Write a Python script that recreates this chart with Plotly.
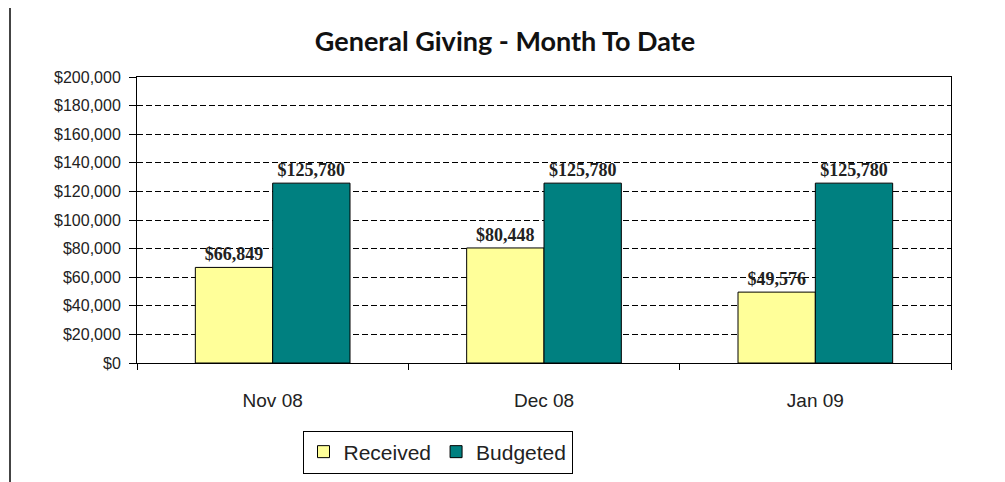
import plotly.graph_objects as go

months = ["Nov 08", "Dec 08", "Jan 09"]
received = [66849, 80448, 49576]
budgeted = [125780, 125780, 125780]
series_names = ["Received", "Budgeted"]
title_text = "General Giving - Month To Date"

# page pixels (page body has an 8px margin, so the figure is offset by 8px)
OFF = 8
PW, PH = 1005, 482
W, H = PW - OFF, PH - OFF
L, R, T, B = 137 - OFF, 951 - OFF, 77 - OFF, 363 - OFF

def fmt(v):
    return "${:,}".format(v)

label_font = dict(family="Liberation Serif", size=18, color="#222222", weight="bold")

fig = go.Figure()
fig.add_trace(go.Bar(
    x=months, y=received, name=series_names[0],
    marker=dict(color="#FFFF99", line=dict(color="#000000", width=1)),
    text=[fmt(v) for v in received], textposition="outside",
    textfont=label_font, cliponaxis=False,
))
fig.add_trace(go.Bar(
    x=months, y=budgeted, name=series_names[1],
    marker=dict(color="#008080", line=dict(color="#000000", width=1)),
    text=[fmt(v) for v in budgeted], textposition="outside",
    textfont=label_font, cliponaxis=False,
))

fig.update_layout(
    width=W, height=H,
    margin=dict(l=L, r=W - R, t=T, b=H - B, autoexpand=False),
    paper_bgcolor="white", plot_bgcolor="white",
    barmode="group", bargap=0.43, bargroupgap=0,
    title=dict(text="<b>" + title_text + "</b>", x=(505 - OFF) / W, xref="container", xanchor="center",
               y=1 - (42 - OFF) / H, yref="container", yanchor="middle",
               font=dict(family="Lato", size=27, color="#111111")),
    font=dict(family="Arial", color="#222222"),
    showlegend=True,
    legend=dict(orientation="h", x=(437.5 - OFF - L) / (R - L), y=(B - (452 - OFF)) / (B - T),
                xanchor="center", yanchor="middle",
                bordercolor="#000000", borderwidth=1, bgcolor="white",
                font=dict(family="Arial", size=21, color="#222222"),
                traceorder="normal", itemwidth=30),
)
fig.update_xaxes(
    showline=True, linecolor="#000000", linewidth=1, mirror=True,
    ticks="outside", tickson="boundaries", ticklen=6, tickcolor="#000000",
    tickfont=dict(family="Arial", size=19, color="#222222"),
    ticklabelstandoff=20,
    showgrid=False,
)
fig.update_yaxes(
    range=[0, 200000], dtick=20000, tickprefix="$", tickformat=",",
    showline=True, linecolor="#000000", linewidth=1, mirror=True,
    ticks="outside", ticklen=7, tickcolor="#000000",
    tickfont=dict(family="Arial", size=16, color="#222222"),
    ticklabelstandoff=5,
    showgrid=True, gridcolor="#000000", gridwidth=1, griddash="6px,3px",
    zeroline=False,
)
# outer chart border on the left
fig.add_shape(type="line", xref="paper", yref="paper",
              x0=(10 - OFF - L) / (R - L), x1=(10 - OFF - L) / (R - L),
              y0=(B - 0) / (B - T), y1=(B - H) / (B - T),
              line=dict(color="#444444", width=2))

fig.write_html("out.html")
